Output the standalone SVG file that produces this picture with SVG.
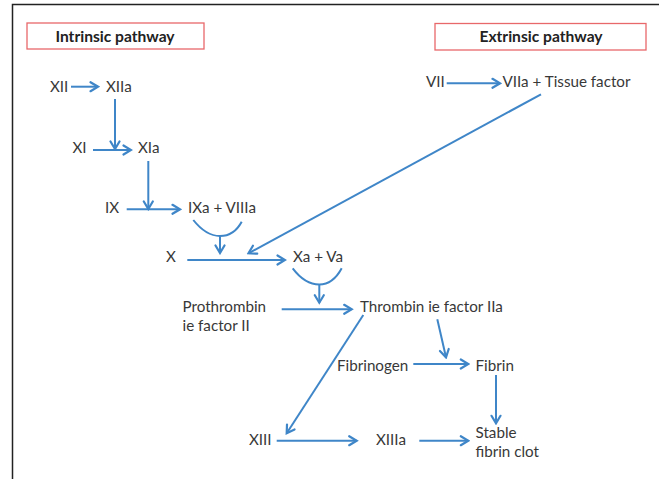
<svg xmlns="http://www.w3.org/2000/svg" width="659" height="479" viewBox="0 0 659 479">
<defs>
<marker id="ah" markerUnits="userSpaceOnUse" markerWidth="12" markerHeight="12" viewBox="0 0 12 12" refX="10" refY="6" orient="auto">
<path d="M2.5,1.5 L10,6 L2.5,10.5" fill="none" stroke="#3f86c8" stroke-width="2.2" stroke-linecap="round" stroke-linejoin="miter"/>
</marker>
</defs>
<style>
text{font-family:Lato,"Open Sans","Liberation Sans",sans-serif;font-size:15.2px;fill:#383838}
.title{font-weight:bold;font-size:15.6px;fill:#222}
.box{fill:#fff;stroke:#e8686a;stroke-width:1.3}
.c{fill:none;stroke:#3f86c8;stroke-width:2}
.a{marker-end:url(#ah)}
</style>
<rect width="659" height="479" fill="#fff"/>
<path d="M12.5,479 V4.5 H659" fill="none" stroke="#222" stroke-width="1.5"/>
<g id="intrinsic"><rect class="box" x="27" y="23" width="177" height="26"/><text class="title" x="115" y="41.5" text-anchor="middle">Intrinsic pathway</text></g>
<g id="extrinsic"><rect class="box" x="435" y="23.5" width="211" height="26.5"/><text class="title" x="541" y="42" text-anchor="middle">Extrinsic pathway</text></g>
<g id="XII"><text x="50" y="92">XII</text></g>
<g id="XIIa"><text x="106" y="92">XIIa</text></g>
<g id="XI"><text x="72.5" y="152.5">XI</text></g>
<g id="XIa"><text x="138" y="152.5">XIa</text></g>
<g id="IX"><text x="105" y="212.5">IX</text></g>
<g id="IXa_VIIIa"><text x="188" y="212.5">IXa + VIIIa</text></g>
<g id="X"><text x="166" y="262">X</text></g>
<g id="Xa_Va"><text x="293" y="262">Xa + Va</text></g>
<g id="prothrombin"><text x="182.5" y="312">Prothrombin</text><text x="182.5" y="331">ie factor II</text></g>
<g id="thrombin"><text x="360" y="312">Thrombin ie factor IIa</text></g>
<g id="VII"><text x="426" y="86.5">VII</text></g>
<g id="VIIa_TF"><text x="502.5" y="86.5">VIIa + Tissue factor</text></g>
<g id="fibrinogen"><text x="337" y="371">Fibrinogen</text></g>
<g id="fibrin"><text x="475.5" y="371">Fibrin</text></g>
<g id="XIII"><text x="249" y="444.5">XIII</text></g>
<g id="XIIIa"><text x="376" y="444.5">XIIIa</text></g>
<g id="stable"><text x="475.5" y="437.5">Stable</text><text x="475.5" y="457">fibrin clot</text></g>
<g id="connectors">
<path class="c a" d="M71,86.7 H98"/>
<path class="c a" d="M115,99 V149"/>
<path class="c a" d="M93,150 H131"/>
<path class="c a" d="M148.3,161 V209"/>
<path class="c a" d="M126.7,209.3 H180"/>
<path class="c" d="M193.3,220 Q206,236 220,236 Q234,236 241.7,221.7"/>
<path class="c a" d="M220,236 V253"/>
<path class="c a" d="M541,94.3 L248.5,253.3"/>
<path class="c a" d="M187.3,260 H285"/>
<path class="c a" d="M446.7,83.3 H500"/>
<path class="c" d="M292.7,268.3 Q305,284.5 319.3,284.5 Q333,284.5 341.7,268.3"/>
<path class="c a" d="M319.3,284.5 V302.7"/>
<path class="c a" d="M281.7,309.3 H351.7"/>
<path class="c a" d="M363.3,315 L286.7,433.3"/>
<path class="c a" d="M437.3,319.3 L446,357.3"/>
<path class="c a" d="M413.3,364 H468.3"/>
<path class="c a" d="M496,375 V423.3"/>
<path class="c a" d="M276.7,440.7 H356.7"/>
<path class="c a" d="M419.3,440.7 H468.3"/>
</g>
</svg>
